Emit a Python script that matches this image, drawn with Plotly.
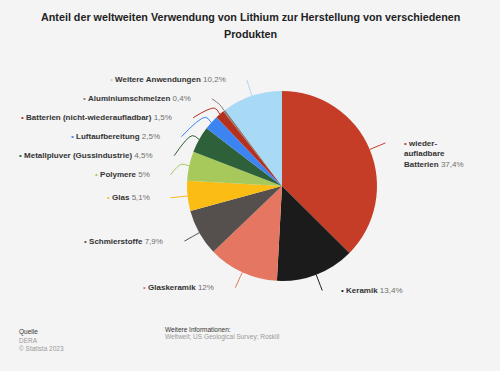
import math
import plotly.graph_objects as go

# ---- data ----
categories = [
    "wieder-aufladbare Batterien",
    "Keramik",
    "Glaskeramik",
    "Schmierstoffe",
    "Glas",
    "Polymere",
    "Metallpluver (Gussindustrie)",
    "Luftaufbereitung",
    "Batterien (nicht-wiederaufladbar)",
    "Aluminiumschmelzen",
    "Weitere Anwendungen",
]
label_lines = [
    ["wieder-", "aufladbare", "Batterien"],
    ["Keramik"],
    ["Glaskeramik"],
    ["Schmierstoffe"],
    ["Glas"],
    ["Polymere"],
    ["Metallpluver (Gussindustrie)"],
    ["Luftaufbereitung"],
    ["Batterien (nicht-wiederaufladbar)"],
    ["Aluminiumschmelzen"],
    ["Weitere Anwendungen"],
]
values = [37.4, 13.4, 12, 7.9, 5.1, 5, 4.5, 2.5, 1.5, 0.4, 10.2]
colors = ["#c53d26", "#1b1b1b", "#e47662", "#55504d", "#fbbc14", "#a7c95c",
          "#2e6139", "#3d84f3", "#b5311f", "#8e7a70", "#a8d9f5"]

title_lines = ["Anteil der weltweiten Verwendung von Lithium zur Herstellung von verschiedenen",
               "Produkten"]
source_lines = ["Quelle", "DERA", "© Statista 2023"]
info_lines = ["Weitere Informationen:", "Weltweit; US Geological Survey; Roskill"]

# ---- layout constants (pixels) ----
W, H = 500, 371
CX, CY, R = 282, 186, 95
R_LABEL = 112
MIN_GAP = 19
FONT = "Liberation Sans, Arial, sans-serif"
BG = "#f4f4f4"

fig = go.Figure()

fig.add_trace(go.Pie(
    labels=categories, values=values, sort=False, direction="clockwise", rotation=0,
    marker=dict(colors=colors, line=dict(width=0)),
    textinfo="none", hoverinfo="label+percent", showlegend=False,
    domain=dict(x=[(CX - R) / W, (CX + R) / W], y=[(H - CY - R) / H, (H - CY + R) / H]),
))

# ---- compute label positions from data ----
total = sum(values)
cum = 0
angles = []
for v in values:
    mid = (cum + v / 2) / total * 2 * math.pi
    angles.append(mid)
    cum += v

ys = [CY - R_LABEL * math.cos(a) for a in angles]
left = [i for i, a in enumerate(angles) if math.sin(a) < 0]
right = [i for i, a in enumerate(angles) if math.sin(a) >= 0]
for group in (left, right):
    order = sorted(group, key=lambda i: ys[i])
    for k in range(1, len(order)):
        prev, cur = order[k - 1], order[k]
        if ys[cur] - ys[prev] < MIN_GAP:
            ys[cur] = ys[prev] + MIN_GAP


def fmt(v):
    return f"{v:g}".replace(".", ",") + "%"


annotations = []
for i, a in enumerate(angles):
    s, c = math.sin(a), math.cos(a)
    ex, ey = CX + R * s, CY - R * c
    mx, my = CX + (R + 8) * s, CY - (R + 8) * c
    dy = ys[i] - CY
    dx = math.sqrt(max(R_LABEL ** 2 - dy ** 2, 0))
    lx = CX + dx if s >= 0 else CX - dx
    ly = ys[i]
    fig.add_trace(go.Scatter(
        x=[ex, mx, lx], y=[ey, my, ly], mode="lines",
        line=dict(color=colors[i], width=1, shape="spline"),
        hoverinfo="skip", showlegend=False, xaxis="x", yaxis="y",
    ))
    lines = label_lines[i]
    bullet = f"<span style='color:{colors[i]}'>•</span> "
    pct = f" <span style='color:#6f6f6f'>{fmt(values[i])}</span>"
    if len(lines) == 1:
        text = bullet + f"<b>{lines[0]}</b>" + pct
    else:
        parts = [f"<b>{ln}</b>" for ln in lines]
        parts[0] = bullet + parts[0]
        parts[-1] = parts[-1] + pct
        text = "<br>".join(parts)
    if s >= 0:
        annotations.append(dict(
            x=lx + 17, y=ly - (6 if len(lines) > 1 else 0), xref="x", yref="y",
            text=text, showarrow=False, xanchor="left",
            yanchor="top" if len(lines) > 1 else "middle", align="left",
            font=dict(family=FONT, size=8, color="#333333"),
        ))
    else:
        annotations.append(dict(
            x=lx - 19, y=ly, xref="x", yref="y", text=text, showarrow=False,
            xanchor="right", yanchor="middle", align="right",
            font=dict(family=FONT, size=8, color="#333333"),
        ))

# title
for k, t in enumerate(title_lines):
    annotations.append(dict(
        x=250, y=17 + k * 16.5, xref="x", yref="y", text=f"<b>{t}</b>", showarrow=False,
        xanchor="center", yanchor="middle", font=dict(family=FONT, size=10.75, color="#222222"),
    ))

# footer
for k, t in enumerate(source_lines):
    annotations.append(dict(
        x=17, y=332 + k * 8, xref="x", yref="y", text=t, showarrow=False,
        xanchor="left", yanchor="middle",
        font=dict(family=FONT, size=6.5, color="#333333" if k == 0 else "#9a9a9a"),
    ))
for k, t in enumerate(info_lines):
    annotations.append(dict(
        x=163, y=329 + k * 8, xref="x", yref="y", text=t, showarrow=False,
        xanchor="left", yanchor="middle",
        font=dict(family=FONT, size=6.5, color="#333333" if k == 0 else "#9a9a9a"),
    ))

fig.update_layout(
    width=W, height=H, margin=dict(l=0, r=0, t=0, b=0),
    paper_bgcolor=BG, plot_bgcolor="rgba(0,0,0,0)",
    xaxis=dict(range=[0, W], visible=False, fixedrange=True, domain=[0, 1]),
    yaxis=dict(range=[H, 0], visible=False, fixedrange=True, domain=[0, 1]),
    annotations=annotations, showlegend=False,
)

fig.write_html("out.html", config={"displayModeBar": False},
               post_script="document.body.style.margin='0';document.body.style.background='#f4f4f4';")
